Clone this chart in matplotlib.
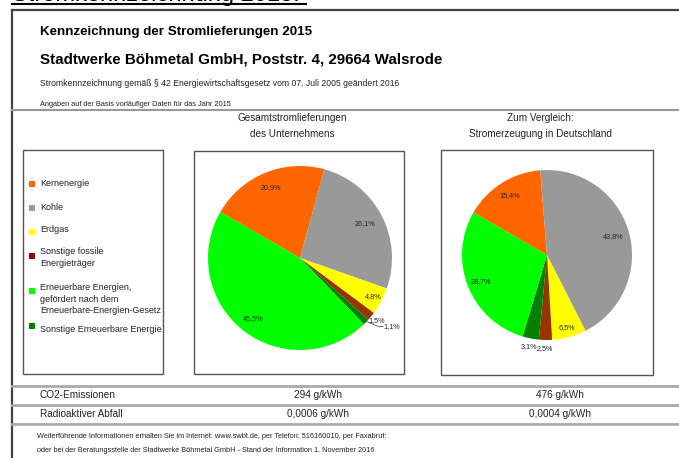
import numpy as np
import matplotlib.pyplot as plt
from matplotlib.patches import Rectangle

plt.rcParams['font.family'] = ['Liberation Sans', 'DejaVu Sans']

# Daten
kategorien = ['Kernenergie', 'Kohle', 'Erdgas', 'Sonstige fossile\nEnergieträger',
              'Erneuerbare Energien,\ngefördert nach dem\nErneuerbare-Energien-Gesetz',
              'Sonstige Erneuerbare Energie']
farben = ['#FF6600', '#999999', '#FFFF00', '#993300', '#00FF00', '#008000']
legend_farben = ['#FF6600', '#999999', '#FFFF00', '#990000', '#00FF00', '#008000']

# Reihenfolge im Kuchen: Kern, Kohle, Erdgas, fossil, sonst. EE, EEG
pie_idx = [0, 1, 2, 3, 5, 4]
unternehmen = [20.9, 26.1, 4.8, 1.5, 1.1, 45.5]
deutschland = [15.4, 43.8, 6.5, 2.5, 3.1, 28.7]

co2 = ['294 g/kWh', '476 g/kWh']
abfall = ['0,0006 g/kWh', '0,0004 g/kWh']

W, H = 679, 458
fig = plt.figure(figsize=(W / 100, H / 100), dpi=100)
ax = fig.add_axes([0, 0, 1, 1])
ax.set_xlim(0, W)
ax.set_ylim(H, 0)
ax.axis('off')

# abgeschnittene Überschrift oben
ax.text(12, 0.5, 'Stromkennzeichnung 2015:', fontsize=17, va='baseline', ha='left', color='black')
ax.plot([12, 306], [3.5, 3.5], color='black', lw=1.5)

# Rahmen
ax.plot([12, W], [10, 10], color='#444444', lw=1.6)
ax.plot([12, 12], [10, H], color='#444444', lw=1.6)
ax.plot([12, W], [110, 110], color='#999999', lw=1.5)
for yy in [386, 405, 424]:
    ax.plot([12, W], [yy, yy], color='#aaaaaa', lw=2)

# Kopftexte
ax.text(40, 32, 'Kennzeichnung der Stromlieferungen 2015', fontsize=9.6, fontweight='bold', va='center')
ax.text(40, 60, 'Stadtwerke Böhmetal GmbH, Poststr. 4, 29664 Walsrode', fontsize=10.9, fontweight='bold', va='center')
ax.text(40, 84, 'Stromkennzeichnung gemäß § 42 Energiewirtschaftsgesetz vom 07. Juli 2005 geändert 2016',
        fontsize=6.2, va='center', color='#222222')
ax.text(40, 104, 'Angaben auf der Basis vorläufiger Daten für das Jahr 2015', fontsize=5.3, va='center', color='#222222')

ax.text(292, 118, 'Gesamtstromlieferungen', fontsize=7.2, ha='center', va='center', color='#222222')
ax.text(292, 134, 'des Unternehmens', fontsize=7.2, ha='center', va='center', color='#222222')
ax.text(540, 118, 'Zum Vergleich:', fontsize=7.2, ha='center', va='center', color='#222222')
ax.text(540, 134, 'Stromerzeugung in Deutschland', fontsize=7.2, ha='center', va='center', color='#222222')

# Kästen
for (x0, y0, x1, y1) in [(23, 150, 163, 374), (194, 151, 404, 374), (441, 150, 653, 375)]:
    ax.add_patch(Rectangle((x0, y0), x1 - x0, y1 - y0, fill=False, ec='#555555', lw=1))

# Legende
marker_y = [184, 208, 232, 256, 291, 326]
text_y = [184, 207, 230, 257.5, 299, 329]
for name, c, my, ty in zip(kategorien, legend_farben, marker_y, text_y):
    ax.add_patch(Rectangle((29, my - 3), 6, 6, color=c, lw=0))
    ax.text(40, ty, name, fontsize=6.5, va='center', color='#222222', linespacing=1.35)

# Tabelle
ax.text(40, 395, 'CO2-Emissionen', fontsize=7.2, va='center', color='#222222')
ax.text(40, 414, 'Radioaktiver Abfall', fontsize=7.2, va='center', color='#222222')
for xc, a, b in zip([318, 560], co2, abfall):
    ax.text(xc, 395, a, fontsize=7.2, ha='center', va='center', color='#222222')
    ax.text(xc, 414, b, fontsize=7.2, ha='center', va='center', color='#222222')

# Fußzeile
ax.text(37, 437, 'Weiterführende Informationen erhalten Sie im Internet: www.swbt.de, per Telefon: 516160010, per Faxabruf:',
        fontsize=5.3, va='center', color='#222222')
ax.text(37, 451, 'oder bei der Beratungsstelle der Stadtwerke Böhmetal GmbH - Stand der Information 1. November 2016',
        fontsize=5.3, va='center', color='#222222')


def kuchen(cx, cy, r, werte, label_r, leader):
    pax = fig.add_axes([(cx - r) / W, (H - cy - r) / H, 2 * r / W, 2 * r / H])
    wedges, _ = pax.pie(werte, colors=[farben[i] for i in pie_idx], startangle=150,
                        counterclock=False, radius=1, wedgeprops=dict(linewidth=0))
    pax.set_xlim(-1, 1)
    pax.set_ylim(-1, 1)
    pax.axis('off')
    for w, v, lr, ld in zip(wedges, werte, label_r, leader):
        mid = np.deg2rad((w.theta1 + w.theta2) / 2)
        txt = f'{v:.1f}%'.replace('.', ',')
        x, y = lr * np.cos(mid), lr * np.sin(mid)
        if ld:
            pax.plot([0.98 * np.cos(mid), 1.13 * np.cos(mid + 0.05), 1.2 * np.cos(mid + 0.05)],
                     [0.98 * np.sin(mid), 1.13 * np.sin(mid + 0.05), 1.13 * np.sin(mid + 0.05)],
                     color='#555555', lw=0.6, clip_on=False)
            x, y = 1.2 * np.cos(mid + 0.05), 1.13 * np.sin(mid + 0.05)
            pax.text(x, y, txt, fontsize=5.2, ha='left', va='center', color='#222222')
        else:
            pax.text(x, y, txt, fontsize=5.2, ha='center', va='center', color='#222222')


kuchen(300, 258, 92, unternehmen, [0.83, 0.8, 0.9, 1.08, 1.2, 0.83], [False, False, False, False, True, False])
kuchen(547, 255, 85, deutschland, [0.83, 0.81, 0.89, 1.1, 1.1, 0.84], [False] * 6)

fig.savefig('out.png', dpi=100)
